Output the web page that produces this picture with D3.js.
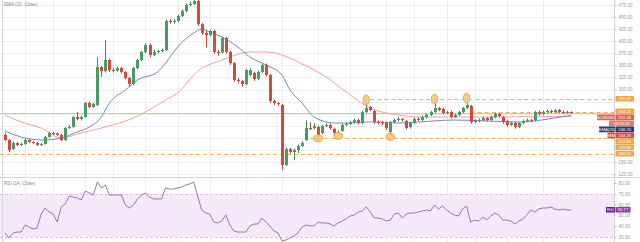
<!DOCTYPE html>
<html><head><meta charset="utf-8">
<script src="https://cdn.jsdelivr.net/npm/d3@7"></script>
<style>html,body{margin:0;padding:0;background:#fff;overflow:hidden}svg{display:block;font-family:"Liberation Sans","DejaVu Sans",sans-serif}</style>
</head><body><svg id="c" width="640" height="242"></svg>
<script>
// ---------- data ----------
const open = [205.8,195.4,176.8,189.2,185.1,187.1,195.4,191.3,189.2,185.1,
187.1,201.6,209.9,208.9,205.8,195.4,220.3,222.3,243.0,238.9,
243.0,272.0,263.8,267.9,346.6,338.0,361.1,340.4,339.3,344.5,
336.2,323.8,311.4,344.5,361.1,377.7,392.2,371.4,377.7,379.7,
381.8,441.9,439.8,441.9,452.2,462.6,475.0,477.1,483.3,435.7,
417.0,412.9,421.2,377.7,376.7,406.7,377.7,354.9,319.7,317.6,
311.4,330.0,334.2,321.8,336.2,350.7,330.0,276.2,272.0,267.9,
143.6,176.8,170.6,174.7,183.0,195.4,220.3,220.3,222.3,209.9,
224.4,226.5,218.2,209.9,214.1,226.5,228.6,232.7,236.8,230.6,
253.4,263.8,255.5,232.7,232.7,230.6,212.0,232.7,236.8,238.9,
234.8,222.3,230.6,238.9,236.8,243.0,247.2,253.4,261.7,259.6,
251.3,253.4,243.0,247.2,253.4,261.7,265.9,232.7,234.8,236.8,
241.0,236.8,243.0,249.3,243.0,234.8,226.5,230.6,222.3,230.6,
234.8,236.8,236.8,253.4,249.3,253.4,255.5,253.4,257.5,253.4,
251.3,253.4];
const high = [210,197,192,191,190,198,197,193,191,189,
204,213,212,211,208,222,226,245,253.4,246,
274,275,272,367,349,402.5,364,344,347,347,
338,326,347,364,380,396,395,382,383,385,
445,446,446,455,466,478,482,495,490,438,
423,424,424,382,409,409,380,357,324,320,
343,344,337,339,353,354,332,279,274,270,
180,179,178,186,193,236,232,230,225,227,
230,229,221,215,229,232,235,240,239,256,
272,266,258,236,235,233,235,240,243,241,
237,233,242,242,246,250,256,274,264,262,
256,256,250,256,264,276,268,238,240,244,
243,246,252,251,245,237,233,233,233,238,
240,239,256,257,256,259,258,260,260,256,
256,255];
const low = [193,170.6,175,183,183,185,189,187,183,183,
186,200,206,204,193,194,218,221,236,236,
242,261,262,266,326,335,336,335,337,333,
321,305,309,342,359,375,367,369,375,377,
380,436,436,439,450,460,472,475,432,413,
387,410,374,370,375,374,351,316,313,306,
309,327,318,319,334,327,272,268,266,133,
141,167,154,168,181,193,216,217,202,207,
222,217,206,207,212,224,226,230,228,228,
251,255,229,228,226,216,205,230,234,234,
217,219,228,234,235,240,245,251,255,249,
249,240,241,245,251,259,229,230,232,234,
234,234,240,242,229,223,224,219,220,228,
232,233,234,246,247,251,251,251,251,249,
250,249];
const close = [195.4,174.7,189.2,185.1,187.1,195.4,191.3,189.2,185.1,187.1,
201.6,209.9,208.9,205.8,195.4,220.3,222.3,243.0,238.9,243.0,
272.0,263.8,270.0,346.6,338.0,361.1,340.4,339.3,344.5,336.2,
323.8,311.4,344.5,361.1,377.7,392.2,371.4,377.7,379.7,381.8,
441.9,439.8,441.9,452.2,462.6,475.0,477.1,483.3,435.7,417.0,
412.9,421.2,377.7,376.7,406.7,377.7,354.9,319.7,318.6,311.4,
340.4,340.4,321.8,336.2,350.7,330.0,276.2,272.0,270.0,143.6,
176.8,170.6,174.7,183.0,189.2,220.3,219.2,224.4,205.8,224.4,
226.5,220.3,209.9,212.0,226.5,228.6,232.7,236.8,230.6,253.4,
261.7,257.5,232.7,231.7,229.6,220.3,232.7,236.8,238.9,236.8,
220.3,230.6,238.9,236.8,243.0,247.2,253.4,261.7,257.5,251.3,
253.4,243.0,247.2,253.4,261.7,267.9,232.7,234.8,236.8,241.0,
236.8,243.0,249.3,245.1,232.7,226.5,230.6,222.3,230.6,234.8,
236.8,235.8,253.4,249.3,253.4,255.5,253.4,257.5,253.4,251.3,
253.4,251.48];

// moving averages (candle index -> value)
const emaIdx = [0,4,9,14,18,21,24,26,30,33,38,40,43,47,49,51,54,58,61,65,69,71,74,77,82,86,90,93,98,103,112,120,128,137,141];
const emaVal = [214,201.6,195.4,199.5,212,222.3,243,272,299,319.7,336.2,354.9,388,417,425.3,419,408.7,388,367.3,350.7,330,299,272,243,230.6,230.6,232.7,232.7,230.6,232.7,236.8,234.8,232.7,241,246.7];
const smaIdx = [0,4,9,14,19,24,32,40,43,48,54,56,61,65,69,73,80,85,91,98,103,108,118,127,141];
const smaVal = [247.2,232.7,220.3,199.5,209.9,220.3,241,278,293,338,361.1,367.3,377.7,377.7,371.4,357,325.9,294.8,261.7,247.2,243,243,243,243.5,244.2];

const rsi = [33.7,29.1,33.7,34.6,34.6,41.1,39.3,37.4,38.3,51.3,
56.9,53.1,51.3,43.9,57.8,60.6,68.0,67.0,66.1,64.3,
72.6,70.7,68.9,80.9,75.4,78.1,68.9,68.9,68.9,68.9,
59.6,56.9,59.6,65.2,68.9,70.7,67.0,65.2,65.2,65.2,
75.4,74.4,74.4,75.4,76.3,78.1,79.1,80.9,68.0,55.0,
52.2,51.3,43.9,43.0,44.8,50.4,41.1,35.6,34.6,34.6,
34.6,40.2,42.0,42.0,47.6,43.9,40.2,35.6,33.7,26.3,
27.2,29.1,30.9,33.7,39.3,41.1,40.2,40.2,43.9,43.0,
43.0,42.0,40.2,43.0,44.8,46.7,49.4,50.4,53.1,54.1,
57.8,53.1,47.6,47.6,46.7,44.8,45.7,51.3,52.2,47.6,
51.3,52.2,52.2,53.1,54.1,55.0,54.1,59.6,55.9,58.7,
55.0,52.2,50.4,49.4,55.9,58.7,43.9,45.7,44.8,48.5,
45.7,49.4,52.2,50.4,45.7,45.7,44.8,42.0,44.8,46.7,
50.4,55.0,53.1,55.9,56.9,56.9,57.8,55.9,55.0,55.9,
55.0,55.0];

const priceTicks = [475,450,425,400,375,350,325,300,275,250,225,200,175,150,125];
const rsiTicks = [80,70,60,50,40,30];
const gridIdx = [5,12,20,27,35,43,51,60,69,78,86,95,102,110,117,125,134];

const levelVal  = [280.47,254.21,217.63,199.86,166.52];
const levelFrom = [91,116,null,76,0];
const lowMarks  = [78,83,96];
const highMarks = [90,107,115];

const lastPrice = 251.48, lastRsi = 55.77;
const pairName = "BCH/USD", countdown = "03:13:16";
const legendMain = "EMA (20, Close)", legendRsi = "RSI (14, Close)";

// ---------- drawing ----------
const svg = d3.select('#c');
const AX = 614.5;
const x  = d3.scaleLinear().domain([0,141]).range([5,571]);
const yP = d3.scaleLinear().domain([125,475]).range([174,5]);
const yR = d3.scaleLinear().domain([30,80]).range([237,183]);
const fmt = d3.format('.2f');
const px = v => Math.round(v)+0.5;

svg.append('rect').attr('width',640).attr('height',242).attr('fill','#fff');

// RSI band
svg.append('rect').attr('x',0).attr('width',AX).attr('y',yR(70)).attr('height',yR(30)-yR(70))
  .attr('fill','#f4e8fb');
svg.selectAll('.bandEdge').data([70,30]).join('line')
  .attr('x1',0).attr('x2',AX).attr('y1',d=>px(yR(d))).attr('y2',d=>px(yR(d)))
  .attr('stroke','#dcc4e6').attr('stroke-dasharray','3,2');

// grid
svg.append('g').selectAll('line').data(priceTicks).join('line')
  .attr('x1',0).attr('x2',AX).attr('y1',d=>px(yP(d))).attr('y2',d=>px(yP(d)))
  .attr('stroke','#efefef').attr('shape-rendering','crispEdges');
svg.append('g').selectAll('line').data(gridIdx).join('line')
  .attr('x1',d=>px(x(d))).attr('x2',d=>px(x(d))).attr('y1',0).attr('y2',242)
  .attr('stroke','#eeeeee').attr('shape-rendering','crispEdges');

// pane separator and borders
svg.append('line').attr('x1',0).attr('x2',640).attr('y1',177.5).attr('y2',177.5).attr('stroke','#d6d6d6');
svg.append('line').attr('x1',2.5).attr('x2',2.5).attr('y1',0).attr('y2',242).attr('stroke','#d8d8d8');

// level lines
levelVal.forEach((v,i)=>{
  if(levelFrom[i]===null) return;
  svg.append('line').attr('x1',levelFrom[i]===0?0:x(levelFrom[i])).attr('x2',AX)
    .attr('y1',px(yP(v))).attr('y2',px(yP(v)))
    .attr('stroke','#f2b35c').attr('stroke-dasharray','4,3').attr('stroke-width',1);
});
// last price line
svg.append('line').attr('x1',0).attr('x2',AX).attr('y1',px(yP(lastPrice))).attr('y2',px(yP(lastPrice)))
  .attr('stroke','#f3b4b0');

// moving averages
const curve = d3.curveMonotoneX;
svg.append('path').datum(smaIdx.map((d,i)=>[d,smaVal[i]]))
  .attr('d',d3.line().x(d=>x(d[0])).y(d=>yP(d[1])).curve(curve))
  .attr('fill','none').attr('stroke','#eea3a0').attr('stroke-width',1);
svg.append('path').datum(emaIdx.map((d,i)=>[d,emaVal[i]]))
  .attr('d',d3.line().x(d=>x(d[0])).y(d=>yP(d[1])).curve(curve))
  .attr('fill','none').attr('stroke','#6d8cc4').attr('stroke-width',1);

// candles
const idx = d3.range(close.length);
const up = i => close[i] >= open[i];
const g = svg.append('g');
g.selectAll('.wick').data(idx).join('line')
  .attr('x1',i=>Math.round(x(i))+0.5).attr('x2',i=>Math.round(x(i))+0.5)
  .attr('y1',i=>yP(high[i])).attr('y2',i=>yP(low[i]))
  .attr('stroke',i=>up(i)?'#3f8f5f':'#c44a3f').attr('stroke-width',1);
g.selectAll('.body').data(idx).join('rect')
  .attr('x',i=>Math.round(x(i))-1).attr('width',3)
  .attr('y',i=>yP(Math.max(open[i],close[i])))
  .attr('height',i=>Math.max(1,Math.abs(yP(open[i])-yP(close[i]))))
  .attr('fill',i=>up(i)?'#4a9a68':'#cf4b3f');

// markers
svg.selectAll('.lm').data(lowMarks).join('ellipse')
  .attr('cx',i=>x(i)).attr('cy',i=>yP(low[i])+1.5).attr('rx',4.5).attr('ry',3.5)
  .attr('fill','#f6c26d').attr('fill-opacity',0.85).attr('stroke','#eaa33a').attr('stroke-width',0.8);
svg.selectAll('.hm').data(highMarks).join('ellipse')
  .attr('cx',i=>x(i)).attr('cy',i=>yP(high[i])-3).attr('rx',3.2).attr('ry',5)
  .attr('fill','#f6c26d').attr('fill-opacity',0.85).attr('stroke','#eaa33a').attr('stroke-width',0.8);

// RSI line
svg.append('path').datum(rsi)
  .attr('d',d3.line().x((d,i)=>x(i)).y(d=>yR(d)))
  .attr('fill','none').attr('stroke','#957aa3').attr('stroke-width',1);

// ---- right-side label layout (stacked) ----
const LH = 6;
const emaLast = emaVal[emaVal.length-1], smaLast = smaVal[smaVal.length-1];
const items = levelVal.map(v=>({v,kind:'level'}))
  .concat([{v:lastPrice,kind:'price'},{v:emaLast,kind:'ema'},{v:smaLast,kind:'sma'}])
  .sort((a,b)=>yP(a.v)-yP(b.v));
let cursor = -Infinity;
items.forEach(it=>{
  const h = it.kind==='price' ? 2*LH : LH;
  it.top = Math.max(yP(it.v)-LH/2, cursor);
  it.h = h;
  cursor = it.top + h;
});
const rsiLabelY = yR(rsi[rsi.length-1]);
// hide axis tick texts that are covered by a label box
const covered = (y, boxes) => boxes.some(b => y > b[0]-2.2 && y < b[1]+2.2);
const priceBoxes = items.map(it=>[it.top, it.top+it.h]);
const shownPriceTicks = priceTicks.filter(t=>!covered(yP(t), priceBoxes));
const shownRsiTicks = rsiTicks.filter(t=>!covered(yR(t), [[rsiLabelY-LH/2, rsiLabelY+LH/2-1.5]]));

// axes
const axP = svg.append('g').attr('transform',`translate(${AX},0)`)
  .call(d3.axisRight(yP).tickValues(shownPriceTicks).tickFormat(fmt).tickSize(2).tickPadding(2));
const axR = svg.append('g').attr('transform',`translate(${AX},0)`)
  .call(d3.axisRight(yR).tickValues(shownRsiTicks).tickFormat(fmt).tickSize(2).tickPadding(2));
[axP,axR].forEach(a=>{
  a.select('.domain').remove();
  a.selectAll('line').attr('stroke','#bbb');
  a.selectAll('text').attr('fill','#999').attr('font-size',4.6).attr('font-family','Liberation Sans, sans-serif');
});
svg.append('line').attr('x1',AX).attr('x2',AX).attr('y1',0).attr('y2',242).attr('stroke','#cfcfcf');

const lab = svg.append('g').attr('font-size',4.2).attr('font-family','Liberation Sans, sans-serif');
function box(x0,w,yc,fill,text,tcol){
  lab.append('rect').attr('x',x0).attr('y',yc-LH/2).attr('width',w).attr('height',LH-0.4).attr('fill',fill).attr('rx',0.6);
  lab.append('text').attr('x',x0+w/2).attr('y',yc+1.4).attr('text-anchor','middle').attr('fill',tcol||'#fff').text(text);
}
items.forEach(it=>{
  const yc = it.top + LH/2;
  if(it.kind==='level') box(615.5,18.5,yc,'#f3a640',fmt(it.v));
  if(it.kind==='price'){
    box(597,18,yc,'#e1604e',pairName);
    box(615.5,18.5,yc,'#e1604e',fmt(it.v));
    box(609,25,yc+LH,'#e77a6a',countdown);
  }
  if(it.kind==='ema'){ box(599,16,yc,'#26397c','EMA(20)'); box(615.5,18.5,yc,'#26397c',fmt(it.v)); }
  if(it.kind==='sma'){ box(607.5,8,yc,'#e2463f','SMA'); box(615.5,18.5,yc,'#e2463f',fmt(it.v)); }
});
// RSI label
box(606,9,rsiLabelY,'#6a1b8a','RSI');
box(615.5,15,rsiLabelY,'#8e3aab',fmt(lastRsi));

// legends
svg.append('text').attr('x',4).attr('y',6).attr('font-size',4.6).attr('fill','#888').text(legendMain);
svg.append('text').attr('x',4).attr('y',184.5).attr('font-size',4.6).attr('fill','#888').text(legendRsi);
</script></body></html>
